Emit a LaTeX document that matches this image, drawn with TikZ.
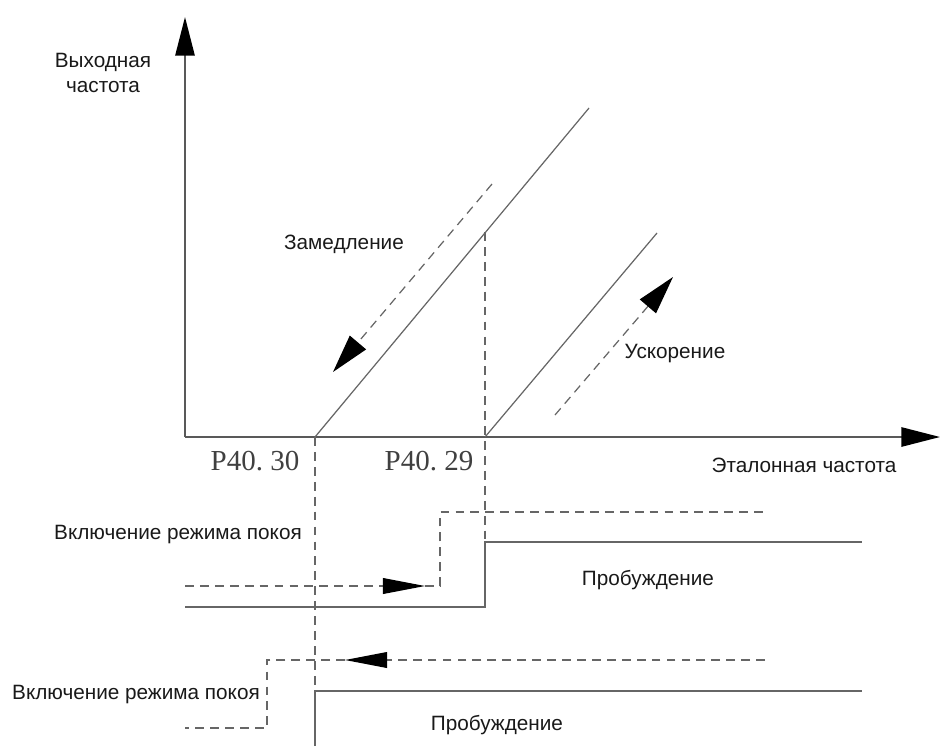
\documentclass[tikz,border=0pt]{standalone}
\usepackage{fontspec}
\setmainfont{Liberation Sans}
\newfontfamily\serifp{Liberation Serif}
\usetikzlibrary{arrows.meta}
\begin{document}
\begin{tikzpicture}[x=0.02cm,y=-0.02cm,
  ax/.style={line width=1pt,draw=black!65},
  ln/.style={line width=0.7pt,draw=black!60},
  dsh/.style={line width=0.7pt,draw=black!60,dash pattern=on 5pt off 3.5pt},
  lbl/.style={font=\fontsize{11.8}{12.5}\selectfont,inner sep=0pt,text=black!90},
  plbl/.style={font=\serifp\fontsize{16.5}{18}\selectfont,inner sep=0pt,text=black!75},
  axtip/.style={-{Triangle[length=22pt,width=11pt,color=black]}},
  diagtip/.style={-{Triangle[length=22pt,width=12pt,color=black]}},
  steptip/.style={-{Triangle[length=24pt,width=9pt,color=black]}}
]
\useasboundingbox (0,0) rectangle (940,751);
% key points
\coordinate (O) at (185,437);
\coordinate (Ytop) at (185,17);
\coordinate (Xend) at (940,437);
\coordinate (A) at (315,437);
\coordinate (B) at (485,437);
\coordinate (Atop) at (589,108);
\coordinate (Bmid) at (485,232);
\coordinate (Btop) at (657,233);
% decel / accel arrows
\coordinate (D1) at (492,184);
\coordinate (D2) at (333,372);
\coordinate (U1) at (555,415);
\coordinate (U2) at (673,277);
% step chart 1
\coordinate (s1a) at (185,586);
\coordinate (s1tip) at (425,586);
\coordinate (s1b) at (440,586);
\coordinate (s1c) at (440,512);
\coordinate (s1d) at (765,512);
\coordinate (w1a) at (185,607);
\coordinate (w1b) at (485,607);
\coordinate (w1c) at (485,542);
\coordinate (w1d) at (862,542);
% step chart 2
\coordinate (s2a) at (765,660);
\coordinate (s2tip) at (345,660);
\coordinate (s2b) at (267,660);
\coordinate (s2c) at (267,728);
\coordinate (s2d) at (185,728);
\coordinate (w2a) at (315,746);
\coordinate (w2b) at (315,691);
\coordinate (w2c) at (862,691);
\coordinate (Abot) at (315,746);

% axes
\draw[ax,axtip] (O) -- (Ytop);
\draw[ax,axtip] (O) -- (Xend);
% characteristic lines
\draw[ln] (A) -- (Atop);
\draw[ln] (B) -- (Btop);
% dashed verticals
\draw[dsh] (Bmid) -- (w1c);
\draw[dsh] (A) -- (Abot);
% dashed direction arrows
\draw[dsh,diagtip] (D1) -- (D2);
\draw[dsh,diagtip] (U1) -- (U2);
% step chart 1
\draw[dsh,steptip] (s1a) -- (s1tip);
\draw[dsh] (s1tip) -- (s1b) -- (s1c) -- (s1d);
\draw[ln] (w1a) -- (w1b) -- (w1c) -- (w1d);
% step chart 2
\draw[dsh,steptip] (s2a) -- (s2tip);
\draw[dsh] (s2tip) -- (s2b) -- (s2c) -- (s2d);
\draw[ln] (w2a) -- (w2b) -- (w2c);

% labels
\node[lbl,align=center] (ylab) at (103,73) {Выходная\\[2pt]частота};
\node[lbl] (dec) at (344,244) {Замедление};
\node[lbl] (acc) at (675,354) {Ускорение};
\node[lbl] (xlab) at (804,465) {Эталонная частота};
\node[plbl] (p30) at (255,461) {P40.\ 30};
\node[plbl] (p29) at (429,461) {P40.\ 29};
\node[lbl] (sl1) at (178,535) {Включение режима покоя};
\node[lbl] (wk1) at (648,580) {Пробуждение};
\node[lbl] (sl2) at (136,695) {Включение режима покоя};
\node[lbl] (wk2) at (497,725) {Пробуждение};
\end{tikzpicture}
\end{document}
